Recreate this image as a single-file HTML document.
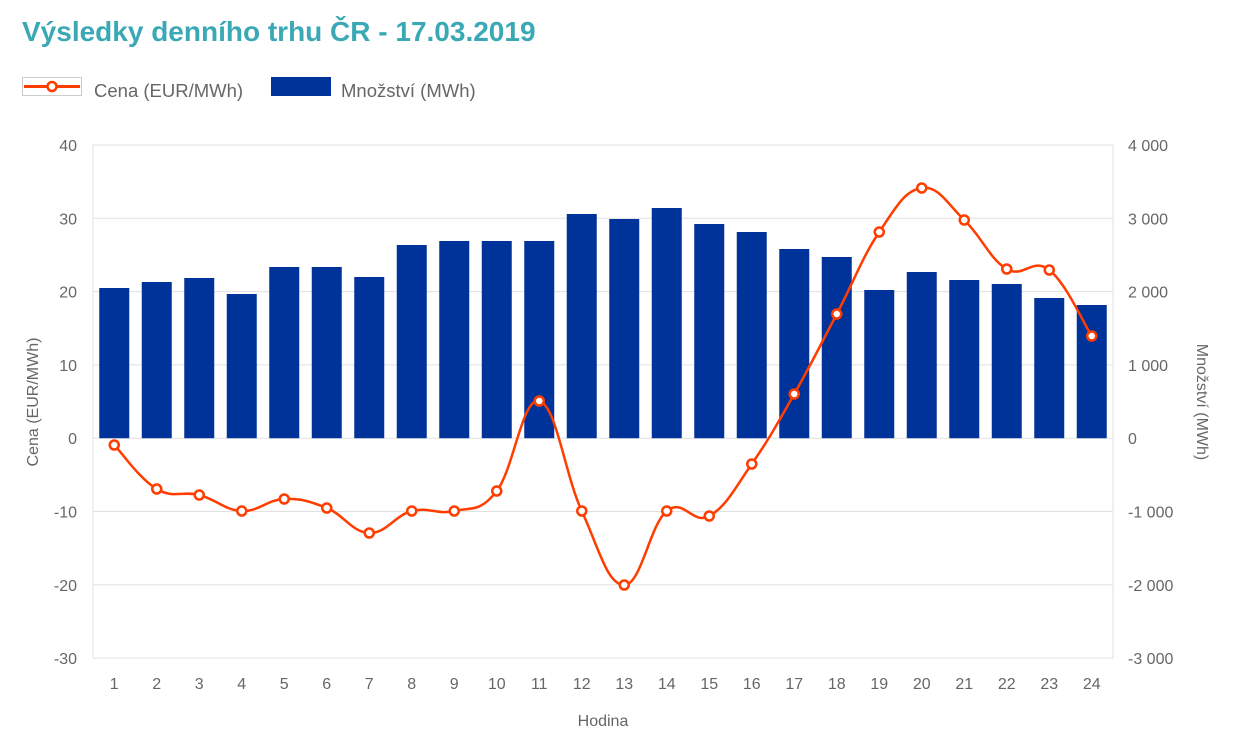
<!DOCTYPE html>
<html><head><meta charset="utf-8"><style>
body{margin:0;background:#fff;font-family:"Liberation Sans",sans-serif}
svg text{font-family:"Liberation Sans",sans-serif}
</style></head><body>
<svg id="c" width="1238" height="743" xmlns="http://www.w3.org/2000/svg"></svg>
<script>
(function(){
const s=document.getElementById('c');let h='';
h+='<text x="22" y="41" font-size="28" font-weight="bold" fill="#3aa9b5">Výsledky denního trhu ČR - 17.03.2019</text>';
h+='<rect x="22.5" y="77.5" width="59" height="18" fill="#fff" stroke="#ccc"/>';
h+='<line x1="24" y1="86.5" x2="80" y2="86.5" stroke="#ff3d00" stroke-width="3"/><circle cx="52" cy="86.5" r="4.5" fill="#fff" stroke="#ff3d00" stroke-width="2.5"/>';
h+='<text x="94" y="97" font-size="18.5" fill="#666">Cena (EUR/MWh)</text>';
h+='<rect x="271" y="77" width="60" height="19" fill="#003399"/>';
h+='<text x="341" y="97" font-size="18.5" fill="#666">Množství (MWh)</text>';
const T=145,u=7.33,L=93,R=1113;
const Y=v=>T+(40-v)*u;
const rl=['4 000','3 000','2 000','1 000','0','-1 000','-2 000','-3 000'];
for(let i=0;i<8;i++){const v=40-10*i,y=Y(v);
h+=`<line x1="${L}" x2="${R}" y1="${y}" y2="${y}" stroke="#e0e0e0"/>`;
h+=`<text x="77" y="${y+6}" font-size="16" fill="#666" text-anchor="end">${v}</text>`;
h+=`<text x="1128" y="${y+6}" font-size="16" fill="#666">${rl[i]}</text>`;}
h+=`<line x1="${L}" x2="${L}" y1="${T}" y2="${Y(-30)}" stroke="#e0e0e0"/><line x1="${R}" x2="${R}" y1="${T}" y2="${Y(-30)}" stroke="#e0e0e0"/>`;
const bt=[288,282,278,294,267,267,277,245,241,241,241,214,219,208,224,232,249,257,290,272,280,284,298,305];
const py=[445,489,495,511,499,508,533,511,511,491,401,511,585,511,516,464,394,314,232,188,220,269,270,336];
const w=(R-L)/24,y0=Y(0);
for(let i=0;i<24;i++){const cx=L+w*(i+.5);
h+=`<rect x="${cx-15}" y="${bt[i]}" width="30" height="${y0-bt[i]}" fill="#003399"/>`;
h+=`<text x="${cx}" y="689" font-size="16" fill="#666" text-anchor="middle">${i+1}</text>`;}
const P=py.map((y,i)=>[L+w*(i+.5),y]);
let d=`M${P[0][0]},${P[0][1]}`;
for(let i=0;i<23;i++){const p0=P[Math.max(i-1,0)],p1=P[i],p2=P[i+1],p3=P[Math.min(i+2,23)];
const t=0.2;
d+=` C${p1[0]+(p2[0]-p0[0])*t},${p1[1]+(p2[1]-p0[1])*t} ${p2[0]-(p3[0]-p1[0])*t},${p2[1]-(p3[1]-p1[1])*t} ${p2[0]},${p2[1]}`;}
h+=`<path d="${d}" fill="none" stroke="#ff3d00" stroke-width="2.5"/>`;
P.forEach(p=>{h+=`<circle cx="${p[0]}" cy="${p[1]}" r="4.5" fill="#fff" stroke="#ff3d00" stroke-width="2.5"/>`;});
h+='<text x="603" y="726" font-size="16" fill="#666" text-anchor="middle">Hodina</text>';
h+='<text transform="translate(38,402) rotate(-90)" font-size="16" fill="#666" text-anchor="middle">Cena (EUR/MWh)</text>';
h+='<text transform="translate(1197,402) rotate(90)" font-size="16" fill="#666" text-anchor="middle">Množství (MWh)</text>';
s.innerHTML=h;
})();
</script>
</body></html>
